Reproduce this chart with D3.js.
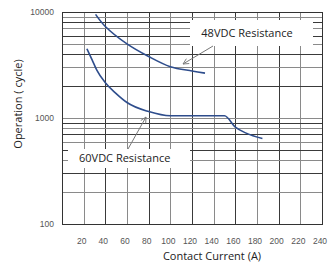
<!DOCTYPE html>
<html>
<head>
<meta charset="utf-8">
<script src="https://cdn.jsdelivr.net/npm/d3@7"></script>
<style>
  body { margin: 0; background: #fff; }
  svg { display: block; }
</style>
</head>
<body>
<svg width="330" height="268"></svg>
<script>
// values
var xTicks = [20, 40, 60, 80, 100, 120, 140, 160, 180, 200, 220, 240];
var yTicks = [100, 1000, 10000];

var current48 = [31, 40, 60, 80, 100, 120, 132];
var ops48     = [9500, 7300, 5000, 3800, 3050, 2780, 2650];

var current60 = [23, 28, 32, 40, 50, 60, 80, 100, 150, 160, 170, 185];
var ops60     = [4500, 3500, 2850, 2150, 1700, 1400, 1150, 1050, 1050, 820, 720, 640];

var plotLeft = 62, plotRight = 322, plotTop = 12, plotBottom = 224;
var curveColor = '#2e4d8c';

var svg = d3.select('svg');

var x = d3.scaleLinear().domain([0, 240]).range([plotLeft, plotRight]);
var y = d3.scaleLog().domain([100, 10000]).range([plotBottom, plotTop]);

var grid = svg.append('g').attr('class', 'grid');

// vertical grid lines every 20 A
grid.selectAll('line.v')
  .data(d3.range(0, 241, 20))
  .enter().append('line')
  .attr('x1', function(d) { return Math.round(x(d)) + 0.5; })
  .attr('x2', function(d) { return Math.round(x(d)) + 0.5; })
  .attr('y1', plotTop)
  .attr('y2', plotBottom)
  .style('stroke', function(d, i) { return i % 2 ? '#8a8a8a' : '#3a3a3a'; })
  .style('stroke-width', 1);

// log grid lines
grid.selectAll('line.h')
  .data(y.ticks())
  .enter().append('line')
  .attr('x1', plotLeft)
  .attr('x2', plotRight)
  .attr('y1', function(d) { return Math.round(y(d)) + 0.5; })
  .attr('y2', function(d) { return Math.round(y(d)) + 0.5; })
  .style('stroke', function(d, i) { return i % 2 ? '#8a8a8a' : '#3a3a3a'; })
  .style('stroke-width', 1);

// frame
svg.append('rect')
  .attr('x', plotLeft + 0.5).attr('y', plotTop + 0.5)
  .attr('width', plotRight - plotLeft).attr('height', plotBottom - plotTop)
  .style('fill', 'none')
  .style('stroke', '#333')
  .style('stroke-width', 1);

// tick labels
svg.selectAll('text.xt')
  .data(xTicks)
  .enter().append('text')
  .attr('x', function(d) { return x(d) - 2; })
  .attr('y', 244)
  .attr('text-anchor', 'middle')
  .style('font', '8.5px "Liberation Sans", Arial, sans-serif')
  .style('fill', '#555')
  .text(function(d) { return d; });

svg.selectAll('text.yt')
  .data(yTicks)
  .enter().append('text')
  .attr('x', 54)
  .attr('y', function(d) { return y(d) + 3; })
  .attr('text-anchor', 'end')
  .style('font', '8.5px "Liberation Sans", Arial, sans-serif')
  .style('fill', '#555')
  .text(function(d) { return d; });

// axis titles
svg.append('text')
  .attr('x', 212)
  .attr('y', 260)
  .attr('text-anchor', 'middle')
  .style('font', '11px "Open Sans", sans-serif')
  .style('fill', '#222')
  .text('Contact Current (A)');

svg.append('text')
  .attr('transform', 'translate(22,104)rotate(-90)')
  .attr('text-anchor', 'middle')
  .style('font', '11px "Open Sans", sans-serif')
  .style('fill', '#222')
  .text('Operation ( cycle)');

// curves
var line48 = d3.line()
  .x(function(d) { return x(d[0]); })
  .y(function(d) { return y(d[1]); })
  .curve(d3.curveCatmullRom.alpha(0.5));

var line60 = d3.line()
  .x(function(d) { return x(d[0]); })
  .y(function(d) { return y(d[1]); })
  .curve(d3.curveMonotoneX);

svg.append('path')
  .datum(d3.zip(current48, ops48))
  .attr('d', line48)
  .style('fill', 'none')
  .style('stroke', curveColor)
  .style('stroke-width', 1.6);

svg.append('path')
  .datum(d3.zip(current60, ops60))
  .attr('d', line60)
  .style('fill', 'none')
  .style('stroke', curveColor)
  .style('stroke-width', 1.6);

// callouts
var defs = svg.append('defs');
defs.append('marker')
  .attr('id', 'arrow')
  .attr('viewBox', '0 0 10 10')
  .attr('refX', 9).attr('refY', 5)
  .attr('markerWidth', 7).attr('markerHeight', 7)
  .attr('orient', 'auto')
  .append('path')
  .attr('d', 'M1,1L9,5L1,9')
  .style('fill', 'none')
  .style('stroke', '#777')
  .style('stroke-width', 1.2);

svg.append('rect')
  .attr('x', 190).attr('y', 20).attr('width', 123).attr('height', 26)
  .style('fill', '#fff');
svg.append('text')
  .attr('x', 247).attr('y', 37)
  .attr('text-anchor', 'middle')
  .style('font', '11px "Open Sans", sans-serif')
  .style('fill', '#222')
  .text('48VDC Resistance');
svg.append('line')
  .attr('x1', 213).attr('y1', 46).attr('x2', 183).attr('y2', 64)
  .attr('marker-end', 'url(#arrow)')
  .style('stroke', '#777').style('stroke-width', 1);

svg.append('rect')
  .attr('x', 68).attr('y', 149).attr('width', 122).attr('height', 19)
  .style('fill', '#fff');
svg.append('text')
  .attr('x', 79).attr('y', 162)
  .style('font', '11px "Open Sans", sans-serif')
  .style('fill', '#222')
  .text('60VDC Resistance');
svg.append('line')
  .attr('x1', 128).attr('y1', 149).attr('x2', 146).attr('y2', 117)
  .attr('marker-end', 'url(#arrow)')
  .style('stroke', '#777').style('stroke-width', 1);
</script>
</body>
</html>
